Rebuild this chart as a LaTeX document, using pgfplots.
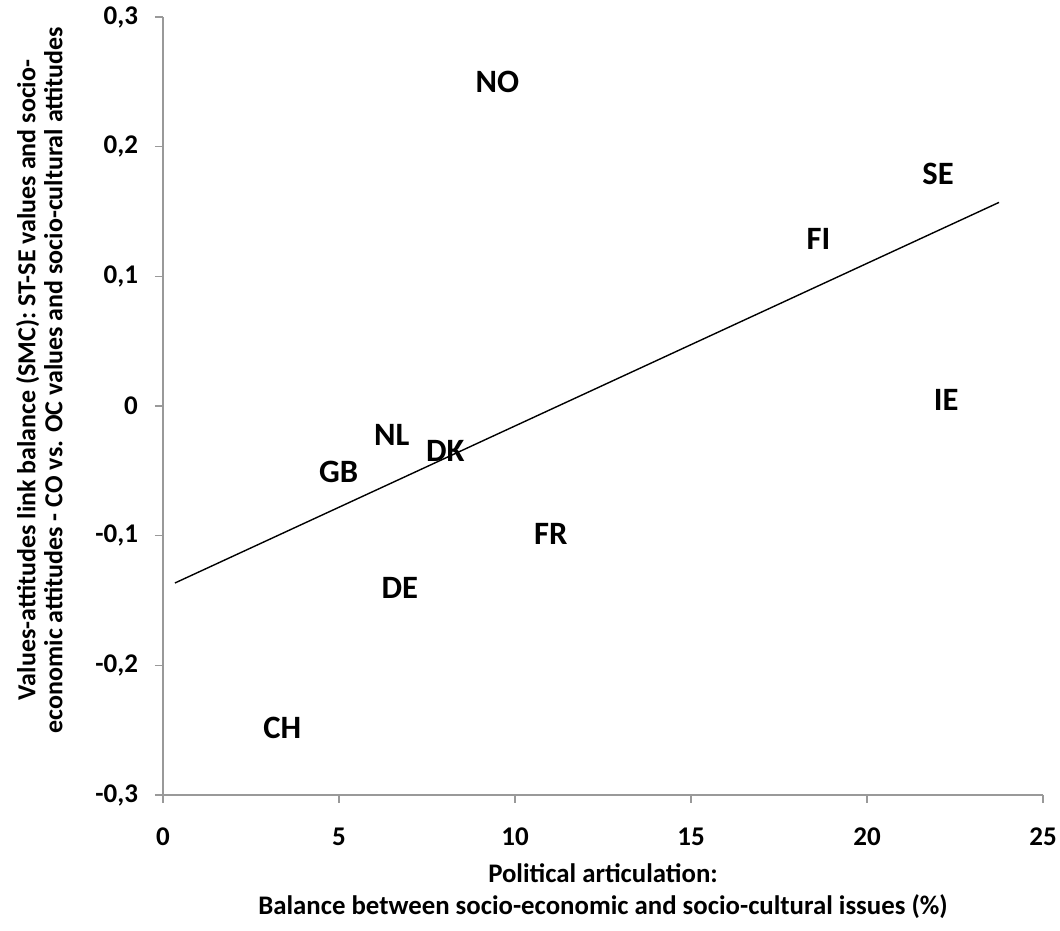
\documentclass[border=0pt]{standalone}
\usepackage{pgfplots}
\pgfplotsset{compat=1.18}
\usepackage{fontspec}
\setmainfont{Carlito}
\begin{document}
\begin{tikzpicture}
\useasboundingbox (-81.5pt,-68pt) rectangle (448.5pt,397.5pt);
\begin{axis}[
  at={(0,0)}, anchor=south west,
  scale only axis, width=440pt, height=389pt,
  xmin=0, xmax=25, ymin=-0.3, ymax=0.3,
  axis lines=left, axis line style={draw=black!40, line width=0.8pt, -},
  xtick={0,5,10,15,20,25},
  ytick={-0.3,-0.2,-0.1,0,0.1,0.2,0.3},
  tick align=outside, major tick length=4pt,
  tick style={draw=black!40, line width=0.8pt},
  /pgf/number format/assume math mode=true,
  /pgf/number format/use comma, /pgf/number format/fixed,
  /pgf/number format/precision=1,
  ticklabel style={font=\bfseries\fontsize{13.5}{15}\selectfont},
  yticklabel style={xshift=-5pt},
  xticklabel style={yshift=-9pt},
  clip=false,
]
\addplot[black, line width=0.7pt] coordinates {(0.34,-0.1365) (23.75,0.157)};
\addplot[draw=none, nodes near coords, point meta=explicit symbolic,
  nodes near coords style={anchor=center, font=\bfseries\fontsize{16.3}{18}\selectfont, text=black}]
  table[meta=label] {
x y label
9.50 0.250 NO
22.02 0.179 SE
18.62 0.129 FI
22.25 0.005 IE
6.50 -0.022 NL
8.02 -0.035 DK
4.99 -0.051 GB
11.02 -0.099 FR
6.73 -0.140 DE
3.39 -0.248 CH
};
\end{axis}
\node[font=\bfseries\fontsize{13.4}{16}\selectfont, align=center, anchor=north] at (220pt,-31pt)
  {Political articulation:\\Balance between socio-economic and socio-cultural issues (\%)};
\node[font=\bfseries\fontsize{13}{13.5}\selectfont, align=center, rotate=90, anchor=north] at (-77pt,207.5pt)
  {Values-attitudes link balance (SMC): ST-SE values and socio-\\economic attitudes - CO vs. OC values and socio-cultural attitudes};
\end{tikzpicture}
\end{document}
